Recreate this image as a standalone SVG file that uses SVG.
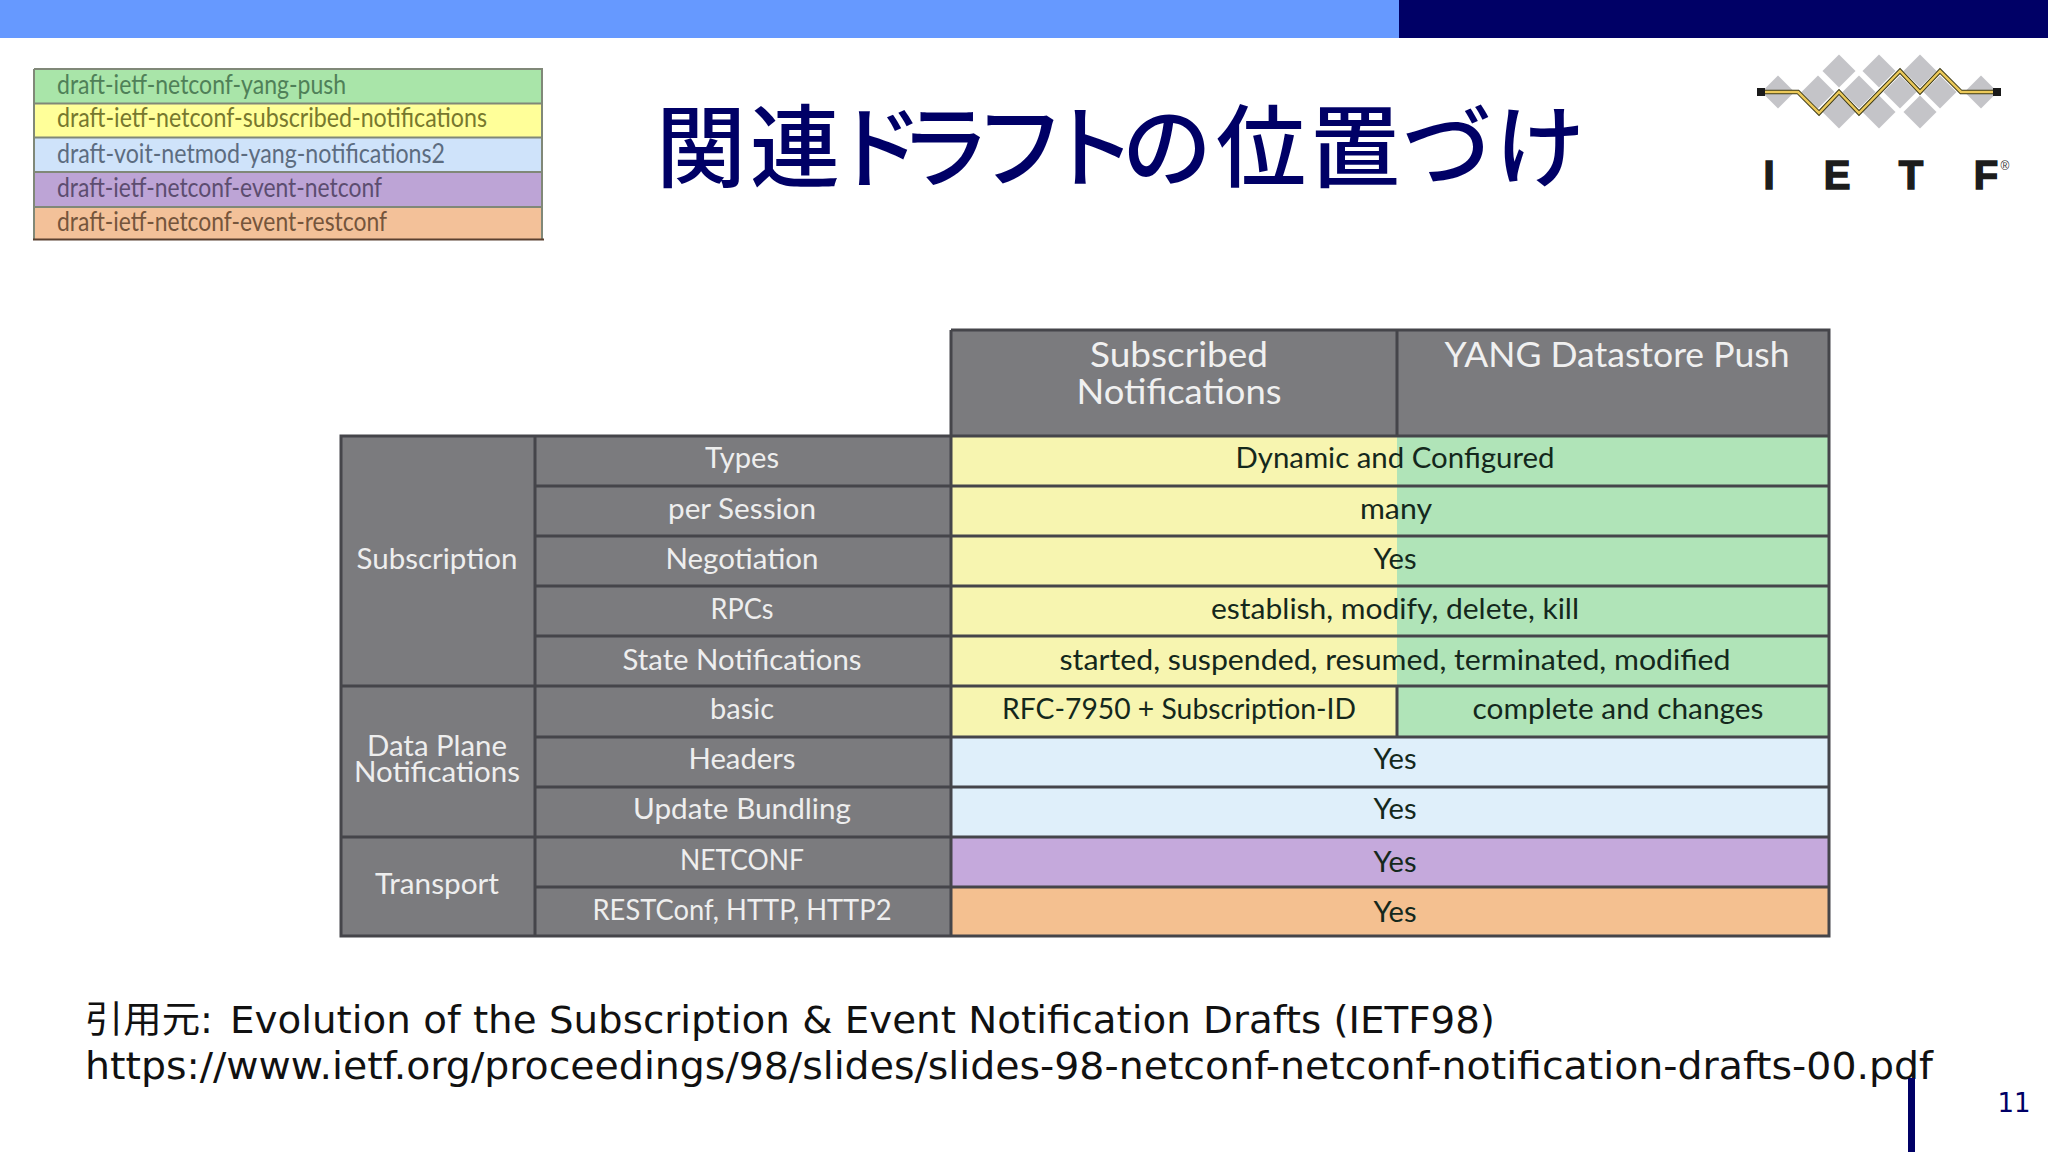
<svg xmlns="http://www.w3.org/2000/svg" width="2048" height="1152" viewBox="0 0 2048 1152">
<style>
.lt{font-family:Lato,"Liberation Sans",sans-serif}
.h{font-size:35px;fill:#f0f0f0;text-anchor:middle}
.l{font-size:29px;fill:#eeeeee;text-anchor:middle}
.v{font-size:29px;fill:#14281c;text-anchor:middle}
.d{font-size:26px}
.ln{stroke:#45454a;stroke-width:3;fill:none}
.g{fill:#7b7b7e}
.dm{fill:#c4c4c8}
.foot{font-family:"DejaVu Sans","Noto Sans CJK JP",sans-serif;font-size:37px;fill:#111}
.logo{font-family:"Liberation Sans",sans-serif;font-weight:700;font-size:40px;fill:#1c1c1c;stroke:#1c1c1c;stroke-width:1.5;text-anchor:middle}
</style>
<defs><path id="dia" class="dm" d="M0-16.500L16.500 0L0 16.500L-16.500 0Z"/></defs>
<rect width="2048" height="1152" fill="#fff"/>
<g id="top-bar">
<rect width="1399" height="38" fill="#6699ff"/>
<rect x="1399" width="649" height="38" fill="#000066"/>
</g>
<g id="legend">
<rect x="34" y="69" width="508" height="34" fill="#a9e5a9"/>
<rect x="34" y="103" width="508" height="34" fill="#ffff99"/>
<rect x="34" y="137" width="508" height="35" fill="#cfe3fa"/>
<rect x="34" y="172" width="508" height="35" fill="#bda4d6"/>
<rect x="34" y="207" width="508" height="33" fill="#f3c199"/>
<path d="M34 69H542V239M34 69V239M34 103.500H542M34 137.500H542M34 172H542M34 207H542" stroke="#808878" stroke-width="2" fill="none"/>
<path d="M33 239.500H544" stroke="#5a4030" stroke-width="2"/>
<text class="lt d" x="57" y="93.500" fill="#4f8058" textLength="289" lengthAdjust="spacingAndGlyphs">draft-ietf-netconf-yang-push</text>
<text class="lt d" x="57" y="127" fill="#77782e" textLength="430" lengthAdjust="spacingAndGlyphs">draft-ietf-netconf-subscribed-notifications</text>
<text class="lt d" x="57" y="162.500" fill="#5c6c80" textLength="388" lengthAdjust="spacingAndGlyphs">draft-voit-netmod-yang-notifications2</text>
<text class="lt d" x="57" y="196.500" fill="#5c4d70" textLength="325" lengthAdjust="spacingAndGlyphs">draft-ietf-netconf-event-netconf</text>
<text class="lt d" x="57" y="230.500" fill="#75553c" textLength="330" lengthAdjust="spacingAndGlyphs">draft-ietf-netconf-event-restconf</text>
</g>
<text id="title" x="656 750 833 900 975 1046 1122 1216 1310 1402 1495" y="180" font-family="'Noto Sans CJK JP',sans-serif" font-weight="500" font-size="90" fill="#000066">関連ドラフトの位置づけ</text>
<g id="logo">
<use href="#dia" x="1778" y="92"/><use href="#dia" x="1818" y="92"/><use href="#dia" x="1839" y="71"/><use href="#dia" x="1839" y="112"/><use href="#dia" x="1859" y="92"/><use href="#dia" x="1879" y="71"/><use href="#dia" x="1879" y="112"/><use href="#dia" x="1900" y="92"/><use href="#dia" x="1920" y="71"/><use href="#dia" x="1920" y="112"/><use href="#dia" x="1940" y="92"/><use href="#dia" x="1981" y="92"/>
<path d="M1764 92H1798L1819 113L1839 92L1859 113L1900 71L1920 92L1940 71L1961 92H1995" fill="none" stroke="#3c3a18" stroke-width="4.500"/>
<path d="M1764 92H1798L1819 113L1839 92L1859 113L1900 71L1920 92L1940 71L1961 92H1995" fill="none" stroke="#ecc95a" stroke-width="2.500"/>
<rect x="1757" y="88" width="8" height="8" fill="#1a1a1a"/>
<rect x="1993" y="88" width="8" height="8" fill="#1a1a1a"/>
<text class="logo" x="1769" y="189">I</text>
<text class="logo" x="1837" y="189">E</text>
<text class="logo" x="1911" y="189">T</text>
<text class="logo" x="1986" y="189">F</text>
<text x="2005" y="170" font-family="'Liberation Sans',sans-serif" font-size="12" fill="#333" text-anchor="middle">®</text>
</g>
<g id="table">
<rect class="g" x="951" y="330" width="878" height="106"/>
<rect class="g" x="341" y="436" width="610" height="500"/>
<rect x="951" y="436" width="446" height="301" fill="#f7f5b0"/>
<rect x="1397" y="436" width="432" height="301" fill="#b0e4b8"/>
<rect x="951" y="737" width="878" height="100" fill="#dfeffa"/>
<rect x="951" y="837" width="878" height="50" fill="#c5a9dc"/>
<rect x="951" y="887" width="878" height="49" fill="#f4c090"/>
<path class="ln" d="M951 330H1829V936H341V436H1829M951 330V936M1397 330V436M1397 686V737M535 436V936M535 486H1829M535 536H1829M535 586H1829M535 636H1829M341 686H1829M535 737H1829M535 787H1829M341 837H1829M535 887H1829"/>
<text class="lt h" x="1179" y="367" textLength="178" lengthAdjust="spacingAndGlyphs">Subscribed</text>
<text class="lt h" x="1179" y="404" textLength="205" lengthAdjust="spacingAndGlyphs">Notifications</text>
<text class="lt h" x="1617" y="367" textLength="345" lengthAdjust="spacingAndGlyphs">YANG Datastore Push</text>
<text class="lt l" x="437" y="569" textLength="161" lengthAdjust="spacingAndGlyphs">Subscription</text>
<text class="lt l" x="437" y="756" textLength="140" lengthAdjust="spacingAndGlyphs">Data Plane</text>
<text class="lt l" x="437" y="782" textLength="166" lengthAdjust="spacingAndGlyphs">Notifications</text>
<text class="lt l" x="437" y="894" textLength="124" lengthAdjust="spacingAndGlyphs">Transport</text>
<text class="lt l" x="742" y="468" textLength="74" lengthAdjust="spacingAndGlyphs">Types</text>
<text class="lt l" x="742" y="519" textLength="148" lengthAdjust="spacingAndGlyphs">per Session</text>
<text class="lt l" x="742" y="569" textLength="153" lengthAdjust="spacingAndGlyphs">Negotiation</text>
<text class="lt l" x="742" y="619" textLength="63" lengthAdjust="spacingAndGlyphs">RPCs</text>
<text class="lt l" x="742" y="670" textLength="239" lengthAdjust="spacingAndGlyphs">State Notifications</text>
<text class="lt l" x="742" y="719" textLength="64" lengthAdjust="spacingAndGlyphs">basic</text>
<text class="lt l" x="742" y="769" textLength="107" lengthAdjust="spacingAndGlyphs">Headers</text>
<text class="lt l" x="742" y="819" textLength="218" lengthAdjust="spacingAndGlyphs">Update Bundling</text>
<text class="lt l" x="742" y="870" textLength="124" lengthAdjust="spacingAndGlyphs">NETCONF</text>
<text class="lt l" x="742" y="920" textLength="299" lengthAdjust="spacingAndGlyphs">RESTConf, HTTP, HTTP2</text>
<text class="lt v" x="1395" y="468" textLength="319" lengthAdjust="spacingAndGlyphs">Dynamic and Configured</text>
<text class="lt v" x="1396" y="519" textLength="72" lengthAdjust="spacingAndGlyphs">many</text>
<text class="lt v" x="1395" y="569" textLength="43" lengthAdjust="spacingAndGlyphs">Yes</text>
<text class="lt v" x="1395" y="618.500" textLength="368" lengthAdjust="spacingAndGlyphs">establish, modify, delete, kill</text>
<text class="lt v" x="1395" y="670" textLength="671" lengthAdjust="spacingAndGlyphs">started, suspended, resumed, terminated, modified</text>
<text class="lt v" x="1179" y="719" textLength="354" lengthAdjust="spacingAndGlyphs">RFC-7950 + Subscription-ID</text>
<text class="lt v" x="1618" y="719" textLength="291" lengthAdjust="spacingAndGlyphs">complete and changes</text>
<text class="lt v" x="1395" y="769" textLength="43" lengthAdjust="spacingAndGlyphs">Yes</text>
<text class="lt v" x="1395" y="819" textLength="43" lengthAdjust="spacingAndGlyphs">Yes</text>
<text class="lt v" x="1395" y="872" textLength="43" lengthAdjust="spacingAndGlyphs">Yes</text>
<text class="lt v" x="1395" y="922" textLength="43" lengthAdjust="spacingAndGlyphs">Yes</text>
</g>
<g id="footer">
<text class="foot" x="85" y="1033" textLength="128" lengthAdjust="spacingAndGlyphs">引用元:</text>
<text class="foot" x="230" y="1033" textLength="1265" lengthAdjust="spacingAndGlyphs">Evolution of the Subscription &amp; Event Notification Drafts (IETF98)</text>
<text class="foot" x="85" y="1079" textLength="1848" lengthAdjust="spacingAndGlyphs">https://www.ietf.org/proceedings/98/slides/slides-98-netconf-netconf-notification-drafts-00.pdf</text>
<rect x="1908" y="1078" width="7" height="74" fill="#000066"/>
<text x="2014" y="1112" font-family="'DejaVu Sans',sans-serif" font-size="26" fill="#000066" text-anchor="middle">11</text>
</g>
</svg>
